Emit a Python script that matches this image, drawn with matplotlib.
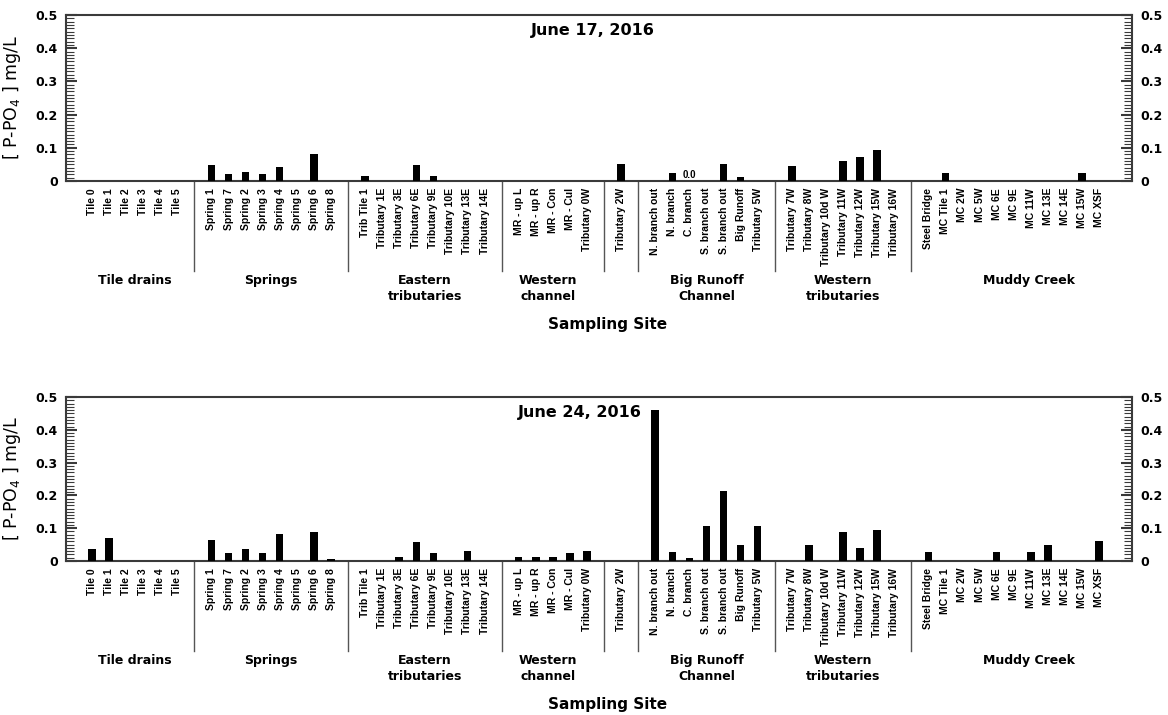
import matplotlib
matplotlib.use("Agg")
import matplotlib.pyplot as plt
from matplotlib.ticker import MultipleLocator

# ---------------- data ----------------
group_names = ["Tile drains", "Springs", "Eastern\ntributaries", "Western\nchannel", "",
               "Big Runoff\nChannel", "Western\ntributaries", "Muddy Creek"]
group_sizes = [6, 8, 8, 5, 1, 7, 7, 11]

sites = ["Tile 0", "Tile 1", "Tile 2", "Tile 3", "Tile 4", "Tile 5",
         "Spring 1", "Spring 7", "Spring 2", "Spring 3", "Spring 4", "Spring 5", "Spring 6", "Spring 8",
         "Trib Tile 1", "Tributary 1E", "Tributary 3E", "Tributary 6E", "Tributary 9E",
         "Tributary 10E", "Tributary 13E", "Tributary 14E",
         "MR - up L", "MR - up R", "MR - Con", "MR - Cul", "Tributary 0W",
         "Tributary 2W",
         "N. branch out", "N. branch", "C. branch", "S. branch out", "S. branch out",
         "Big Runoff", "Tributary 5W",
         "Tributary 7W", "Tributary 8W", "Tributary 10d W", "Tributary 11W",
         "Tributary 12W", "Tributary 15W", "Tributary 16W",
         "Steel Bridge", "MC Tile 1", "MC 2W", "MC 5W", "MC 6E", "MC 9E",
         "MC 11W", "MC 13E", "MC 14E", "MC 15W", "MC XSF"]

june17 = [0, 0, 0, 0, 0, 0,
          0.048, 0.021, 0.028, 0.021, 0.041, 0, 0.082, 0,
          0.014, 0, 0, 0.049, 0.014, 0, 0, 0,
          0, 0, 0, 0, 0,
          0.052,
          0, 0.025, 0.0, 0, 0.052, 0.011, 0,
          0.045, 0, 0, 0.059, 0.073, 0.093, 0,
          0, 0.025, 0, 0, 0, 0, 0, 0, 0, 0.025, 0]

june24 = [0.036, 0.070, 0, 0, 0, 0,
          0.063, 0.023, 0.037, 0.023, 0.083, 0, 0.089, 0.006,
          0, 0, 0.012, 0.057, 0.023, 0, 0.031, 0,
          0.012, 0.012, 0.012, 0.023, 0.031,
          0,
          0.461, 0.028, 0.009, 0.108, 0.213, 0.049, 0.108,
          0, 0.049, 0, 0.087, 0.041, 0.094, 0,
          0.028, 0, 0, 0, 0.028, 0, 0.028, 0.049, 0, 0, 0.061]

panel_titles = ["June 17, 2016", "June 24, 2016"]
ylabel = "[ P-PO$_4$ ] mg/L"
xlabel = "Sampling Site"
zero_note = "0.0"
zero_note_site = 30  # index of "C. branch" in the June 17 panel

# ---------------- layout ----------------
W, H = 1168, 715
fig = plt.figure(figsize=(W / 100, H / 100), dpi=100)

# slot positions: one empty slot between groups
positions = []
separators = []
group_centers = []
slot = 0
for gi, n in enumerate(group_sizes):
    if gi > 0:
        separators.append(slot)
        slot += 1
    start = slot
    for _ in range(n):
        positions.append(slot)
        slot += 1
    group_centers.append((start + slot - 1) / 2.0)
label_shift = [0, 0, 0, -0.3, 0, 0, 0, 0.9]

axes_px = [(66, 15, 1132, 181), (66, 397, 1132, 561)]
title_x_px = [593, 580]
series = [june17, june24]

spine_col = "#3a3a3a"
bold_dv = dict(family="DejaVu Sans", weight="bold")

for k in range(2):
    x0, y0, x1, y1 = axes_px[k]
    ax = fig.add_axes([x0 / W, 1 - y1 / H, (x1 - x0) / W, (y1 - y0) / H])
    hpx = y1 - y0
    ax.bar(positions, series[k], width=0.44, color="black", zorder=3)
    ax.set_xlim(-1.52, 60.93)
    ax.set_ylim(0, 0.5)

    for s in ax.spines.values():
        s.set_linewidth(1.5)
        s.set_color(spine_col)

    ax.yaxis.set_major_locator(MultipleLocator(0.1))
    ax.yaxis.set_minor_locator(MultipleLocator(0.01))
    ax.set_yticks([0, 0.1, 0.2, 0.3, 0.4, 0.5])
    ax.set_yticklabels(["0", "0.1", "0.2", "0.3", "0.4", "0.5"])
    ax.tick_params(axis="y", which="major", direction="in", length=8, width=1.5,
                   left=True, right=True, labelleft=True, labelright=True,
                   color=spine_col, pad=6)
    ax.tick_params(axis="y", which="minor", direction="in", length=5.5, width=0.8,
                   left=True, right=True, color=spine_col)
    for lab in ax.get_yticklabels():
        lab.set_fontfamily("DejaVu Sans")
        lab.set_fontweight("bold")
        lab.set_fontsize(9)

    ax.set_xticks(positions)
    ax.set_xticklabels(sites, rotation=90, fontsize=7.5, fontweight="bold",
                       family="Liberation Sans")
    ax.tick_params(axis="x", length=0, pad=5)

    trans = ax.get_xaxis_transform()
    sep_len = 90 / hpx
    for sx in separators:
        ax.plot([sx, sx], [0, -sep_len], transform=trans, clip_on=False,
                color="#555555", lw=1.0)

    gy = -(93 / hpx)
    for gi, name in enumerate(group_names):
        if name:
            ax.text(group_centers[gi] + label_shift[gi], gy, name, transform=trans,
                    ha="center", va="top", fontsize=9, linespacing=1.25, **bold_dv)

    ax.text(0.508, -(143 / hpx), xlabel, transform=ax.transAxes, ha="center",
            va="center", fontsize=11, **bold_dv)

    ax.text((title_x_px[k] - x0) / (x1 - x0), 1 - 15 / hpx, panel_titles[k],
            transform=ax.transAxes, ha="center", va="center", fontsize=11.5, **bold_dv)

    ax.set_ylabel(ylabel, fontsize=12.5, family="DejaVu Sans")
    ax.yaxis.set_label_coords(-43 / (x1 - x0), 0.5)

    if k == 0:
        ax.text(positions[zero_note_site], 0.004, zero_note, ha="center", va="bottom",
                fontsize=7, fontweight="bold", family="Liberation Sans")

fig.savefig("out.png", dpi=100)
